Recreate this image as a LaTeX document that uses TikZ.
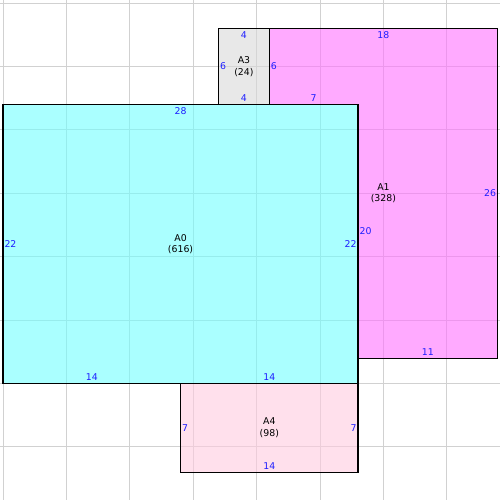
\documentclass[tikz,border=0pt]{standalone}
\usepackage{fontspec}
\setmainfont{DejaVu Sans}
\definecolor{cyanroom}{RGB}{113,255,255}
\definecolor{pinkroom}{RGB}{255,113,255}
\definecolor{greyroom}{RGB}{217,217,217}
\definecolor{roseroom}{RGB}{255,203,223}
\definecolor{lenblue}{RGB}{30,30,255}
\begin{document}
\begin{tikzpicture}[x=5mm, y=5mm, font=\fontsize{10.5}{13}\selectfont,
    gridline/.style={draw=black!18, line width=1.1pt},
    roomfill/.style={fill opacity=0.6},
    wall/.style={draw=black, line width=1.3pt},
    len/.style={text=lenblue, inner xsep=1.5pt, inner ysep=3pt},
    roomname/.style={align=center, inner sep=0pt}]
  \useasboundingbox (-0.237,-9.19) rectangle (39.19,30.24);
  \draw[gridline] (-0.237,-9.19) grid[step=5] (39.19,30.24);
  % room fills
  \fill[roomfill, fill=cyanroom] (0,0) rectangle (28,22);
  \fill[roomfill, fill=pinkroom] (21,28) -- (39,28) -- (39,2) -- (28,2) -- (28,22) -- (21,22) -- cycle;
  \fill[roomfill, fill=greyroom] (17,22) rectangle (21,28);
  \fill[roomfill, fill=roseroom] (14,-7) rectangle (28,0);
  % walls
  \draw[wall] (0,0) rectangle (28,22);
  \draw[wall] (21,28) -- (39,28) -- (39,2) -- (28,2) -- (28,22) -- (21,22) -- cycle;
  \draw[wall] (17,22) rectangle (21,28);
  \draw[wall] (14,-7) rectangle (28,0);
  % A0
  \node[roomname] (a0) at (14,11) {A0\\(616)};
  \node[len, anchor=north] (a0top) at (14,22) {28};
  \node[len, anchor=west] (a0left) at (0,11) {22};
  \node[len, anchor=east] (a0right) at (28,11) {22};
  \node[len, anchor=south] (a0botl) at (7,0) {14};
  \node[len, anchor=south] (a0botr) at (21,0) {14};
  % A1
  \node[roomname] (a1) at (30,15) {A1\\(328)};
  \node[len, anchor=north] (a1top) at (30,28) {18};
  \node[len, anchor=east] (a1right) at (39,15) {26};
  \node[len, anchor=south] (a1bot) at (33.5,2) {11};
  \node[len, anchor=west] (a1inner) at (28,12) {20};
  \node[len, anchor=south] (a1step) at (24.5,22) {7};
  \node[len, anchor=west] (a1left) at (21,25) {6};
  % A3
  \node[roomname] (a3) at (19,25) {A3\\(24)};
  \node[len, anchor=north] (a3top) at (19,28) {4};
  \node[len, anchor=west] (a3left) at (17,25) {6};
  \node[len, anchor=south] (a3bot) at (19,22) {4};
  % A4
  \node[roomname] (a4) at (21,-3.5) {A4\\(98)};
  \node[len, anchor=west] (a4left) at (14,-3.5) {7};
  \node[len, anchor=east] (a4right) at (28,-3.5) {7};
  \node[len, anchor=south] (a4bot) at (21,-7) {14};
\end{tikzpicture}
\end{document}
